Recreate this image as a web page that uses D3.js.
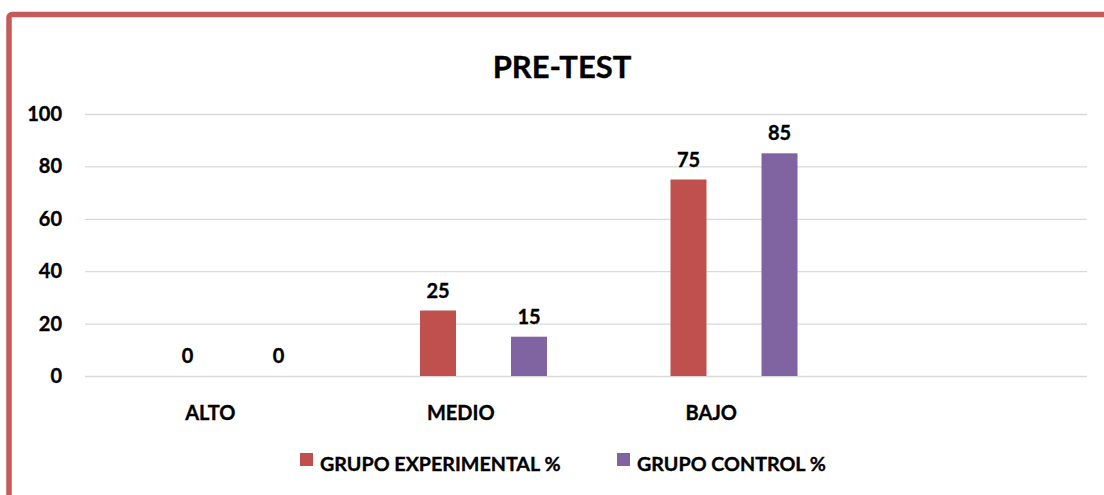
<!DOCTYPE html>
<html>
<head>
<meta charset="utf-8">
<script src="https://cdn.jsdelivr.net/npm/d3@7"></script>
<style>
  html, body { margin: 0; padding: 0; background: #fff; }
  svg { display: block; font-family: Lato, 'Open Sans', sans-serif; font-weight: bold; }
  svg text { stroke: #000; stroke-width: 0.35px; }
</style>
</head>
<body>
<svg id="chart" width="1104" height="495"></svg>
<script>
/* chart data */
const categories = ['ALTO', 'MEDIO', 'BAJO', '']
const seriesNames = ['GRUPO EXPERIMENTAL %', 'GRUPO CONTROL %']
const expValues = [0, 25, 75]
const ctrlValues = [0, 15, 85]
const yTicks = [0, 20, 40, 60, 80, 100]
const chartTitle = 'PRE-TEST'

/* layout */
const W = 1104, H = 495
const plot = { left: 85, right: 1087, top: 114, bottom: 376 }
const colors = ['#c0504d', '#8064a2']

const svg = d3.select('#chart')

/* frame (top + left red border) */
svg.append('rect')
  .attr('x', 9).attr('y', 14.5)
  .attr('width', W + 20).attr('height', H + 20)
  .attr('rx', 3)
  .attr('fill', 'none')
  .attr('stroke', '#c55a5a')
  .attr('stroke-width', 5.5)

/* scales */
const x0 = d3.scaleBand().domain(d3.range(categories.length))
  .range([plot.left, plot.right])

/* four slots per category: Excel leaves empty series around the bars */
const slots = ['s0', 'exp', 's2', 'ctrl']
const x1 = d3.scaleBand().domain(slots)
  .range([0, x0.bandwidth()])
  .paddingInner(0.209)
  .paddingOuter(0.857)

const y = d3.scaleLinear().domain([0, 100]).range([plot.bottom, plot.top])

/* y axis with gridlines */
const yAxis = d3.axisLeft(y)
  .tickValues(yTicks)
  .tickSize(-(plot.right - plot.left))
  .tickPadding(23)

svg.append('g')
  .attr('transform', `translate(${plot.left},0)`)
  .call(yAxis)
  .call(g => g.select('.domain').remove())
  .call(g => g.selectAll('.tick line').attr('stroke', '#d9d9d9').attr('stroke-width', 1.3))
  .call(g => g.selectAll('.tick text')
    .attr('fill', '#000')
    .style('font-size', '20px')
    .style('font-family', 'Lato, sans-serif')
    .style('font-weight', 'bold'))

/* x axis labels */
const xAxis = d3.axisBottom(x0).tickSize(0).tickFormat(i => categories[i])
svg.append('g')
  .attr('transform', `translate(0,${plot.bottom})`)
  .call(xAxis)
  .call(g => g.select('.domain').remove())
  .call(g => g.selectAll('.tick text')
    .attr('y', 44).attr('dy', 0)
    .attr('fill', '#000')
    .style('font-size', '20px')
    .style('font-family', 'Lato, sans-serif')
    .style('font-weight', 'bold'))

/* bars */
const series = [
  { key: 'exp', name: seriesNames[0], values: expValues, color: colors[0] },
  { key: 'ctrl', name: seriesNames[1], values: ctrlValues, color: colors[1] }
]

series.forEach(function (s) {
  const g = svg.append('g')
  g.selectAll('rect')
    .data(s.values)
    .enter()
    .append('rect')
    .attr('x', (d, i) => x0(i) + x1(s.key))
    .attr('y', d => y(d))
    .attr('width', x1.bandwidth())
    .attr('height', d => y(0) - y(d))
    .attr('fill', s.color)

  g.selectAll('text')
    .data(s.values)
    .enter()
    .append('text')
    .attr('x', (d, i) => x0(i) + x1(s.key) + x1.bandwidth() / 2)
    .attr('y', d => y(d) - 13)
    .attr('text-anchor', 'middle')
    .style('font-size', '20px')
    .text(d => d)
})

/* title */
svg.append('text')
  .attr('x', 562).attr('y', 78)
  .attr('text-anchor', 'middle')
  .style('font-size', '31px')
  .text(chartTitle)

/* legend */
const legendPos = [300, 617]
const legend = svg.selectAll('g.legend')
  .data(series)
  .enter()
  .append('g')
  .attr('class', 'legend')
  .attr('transform', (d, i) => `translate(${legendPos[i]},453)`)

legend.append('rect')
  .attr('width', 13).attr('height', 13)
  .attr('fill', d => d.color)

legend.append('text')
  .attr('x', 20).attr('y', 18)
  .style('font-size', '19.7px')
  .text(d => d.name)
</script>
</body>
</html>
